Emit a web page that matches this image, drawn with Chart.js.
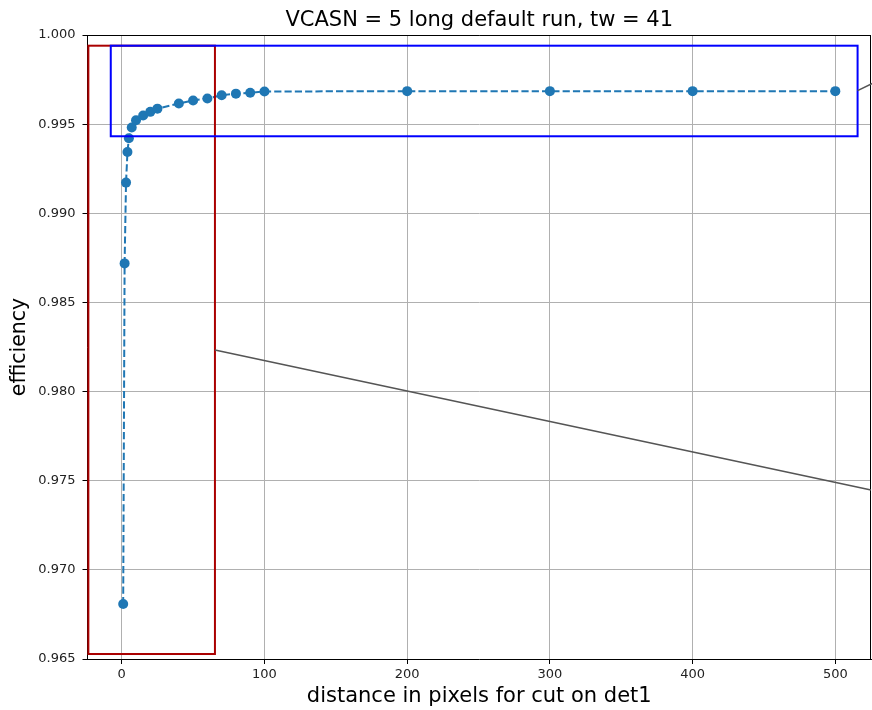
<!DOCTYPE html>
<html>
<head>
<meta charset="utf-8">
<script src="https://cdn.jsdelivr.net/npm/chart.js@4"></script>
<style>
  html, body { margin: 0; padding: 0; background: #fff; }
  canvas { display: block; }
</style>
</head>
<body>
<canvas id="effChart" width="872" height="710"></canvas>
<script>
const distances = [1, 2, 3, 4, 5, 7, 10, 15, 20, 25, 40, 50, 60, 70, 80, 90, 100, 200, 300, 400, 500];
const efficiency = [0.96808, 0.98719, 0.99172, 0.99344, 0.99421, 0.99481, 0.99522, 0.99548, 0.99569, 0.99587,
  0.99616, 0.99633, 0.99644, 0.99662, 0.99671, 0.99676, 0.99683, 0.99685, 0.99685, 0.99685, 0.99685];
const xTicks = [0, 100, 200, 300, 400, 500];
const yTicks = [0.965, 0.970, 0.975, 0.980, 0.985, 0.990, 0.995, 1.000];

// zoom-indicator overlays, in data units
const redBox = { x0: -23.4, x1: 65.3, y0: 0.96528, y1: 0.99940 };
const blueBox = { x0: -7.7, x1: 515.6, y0: 0.99432, y1: 0.99940 };
const greyLine = { x0: 65.3, y0: 0.98233, x1: 525, y1: 0.97448 };
const shortLine = { x0: 515.6, y0: 0.99688, x1: 526, y1: 0.99729 };

const FONT = "'DejaVu Sans', sans-serif";

const overlay = {
  id: 'overlay',
  afterDatasetsDraw(chart) {
    const { ctx, chartArea, scales } = chart;
    const px = v => scales.x.getPixelForValue(v);
    const py = v => scales.y.getPixelForValue(v);
    ctx.save();

    // top and right spines
    ctx.strokeStyle = '#000';
    ctx.lineWidth = 1;
    ctx.beginPath();
    ctx.moveTo(chartArea.left, chartArea.top + 0.5);
    ctx.lineTo(chartArea.right, chartArea.top + 0.5);
    ctx.moveTo(chartArea.right - 0.5, chartArea.top);
    ctx.lineTo(chartArea.right - 0.5, chartArea.bottom);
    ctx.stroke();

    ctx.lineWidth = 2;
    ctx.strokeStyle = '#aa0000';
    ctx.strokeRect(px(redBox.x0), py(redBox.y1), px(redBox.x1) - px(redBox.x0), py(redBox.y0) - py(redBox.y1));
    ctx.strokeStyle = '#0000ff';
    ctx.strokeRect(px(blueBox.x0), py(blueBox.y1), px(blueBox.x1) - px(blueBox.x0), py(blueBox.y0) - py(blueBox.y1));

    ctx.strokeStyle = '#555555';
    ctx.lineWidth = 1.6;
    ctx.beginPath();
    ctx.moveTo(px(greyLine.x0), py(greyLine.y0));
    ctx.lineTo(px(greyLine.x1), py(greyLine.y1));
    ctx.moveTo(px(shortLine.x0), py(shortLine.y0));
    ctx.lineTo(px(shortLine.x1), py(shortLine.y1));
    ctx.stroke();
    ctx.restore();
  }
};

const ctx = document.getElementById('effChart').getContext('2d');
const effChart = new Chart(ctx, {
  type: 'line',
  data: {
    datasets: [{
      data: distances.map((d, i) => ({ x: d, y: efficiency[i] })),
      borderColor: '#1f77b4',
      backgroundColor: '#1f77b4',
      borderWidth: 2,
      borderDash: [7.2, 3.1],
      pointRadius: 5,
      pointBorderWidth: 0,
      pointHoverRadius: 5,
      tension: 0,
      fill: false
    }]
  },
  options: {
    responsive: false,
    animation: false,
    layout: { autoPadding: false, padding: { left: 0, right: 1, top: 0, bottom: 0 } },
    plugins: {
      legend: { display: false },
      tooltip: { enabled: false },
      title: {
        display: true,
        fullSize: false,
        text: 'VCASN = 5 long default run, tw = 41',
        color: '#000',
        font: { family: FONT, size: 21, weight: 'normal' },
        padding: { top: 8, bottom: 1.8 }
      }
    },
    scales: {
      x: {
        type: 'linear',
        min: -24,
        max: 525,
        afterBuildTicks: scale => { scale.ticks = xTicks.map(v => ({ value: v })); },
        afterFit: scale => {
          scale.height = 51;
          scale.paddingLeft = 0;
          scale.paddingRight = 0;
        },
        ticks: {
          color: '#222',
          font: { family: FONT, size: 13 },
          padding: 3,
          maxRotation: 0,
          callback: v => String(v)
        },
        grid: { color: '#b0b0b0', lineWidth: 1, tickColor: '#000', tickLength: 5 },
        border: { color: '#000', width: 1 },
        title: {
          display: true,
          text: 'distance in pixels for cut on det1',
          color: '#000',
          font: { family: FONT, size: 21 },
          padding: { top: 0, bottom: 0.8 }
        }
      },
      y: {
        min: 0.965,
        max: 1.0,
        afterBuildTicks: scale => { scale.ticks = yTicks.map(v => ({ value: v })); },
        afterFit: scale => { scale.width = 87.5; },
        ticks: {
          color: '#222',
          font: { family: FONT, size: 13 },
          padding: 7,
          callback: v => v.toFixed(3)
        },
        grid: { color: '#b0b0b0', lineWidth: 1, tickColor: '#000', tickLength: 5 },
        border: { color: '#000', width: 1 },
        title: {
          display: true,
          text: 'efficiency',
          color: '#000',
          font: { family: FONT, size: 20.5 },
          padding: { top: 7.6, bottom: 0 }
        }
      }
    }
  },
  plugins: [overlay]
});
</script>
</body>
</html>
